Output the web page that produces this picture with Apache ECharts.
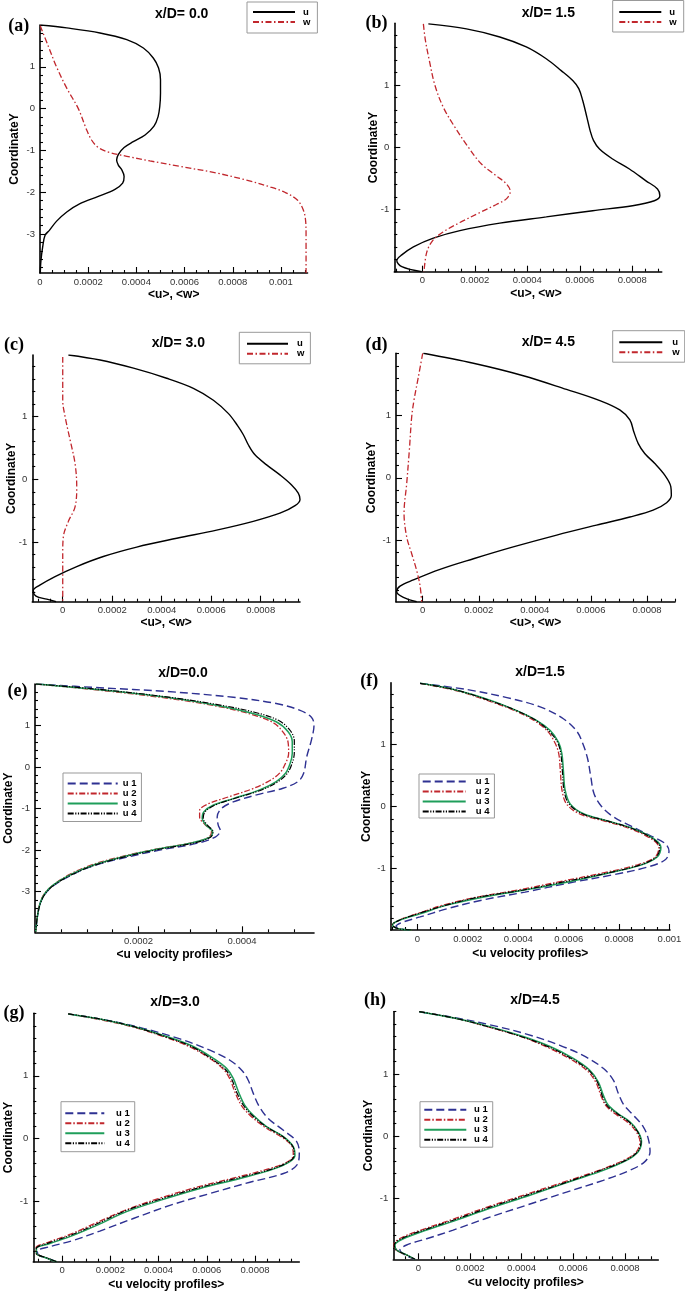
<!DOCTYPE html>
<html lang="en">
<head>
<meta charset="UTF-8">
<title>u, w velocity profiles</title>
<style>
  html, body { margin: 0; padding: 0; background: #fff; }
  #chart { width: 685px; height: 1292px; }
</style>
</head>
<body>
<div id="chart"></div>
<script src="https://cdn.jsdelivr.net/npm/echarts@6/dist/echarts.min.js"></script>
<script>
// ---- data: [u, CoordinateY] ----
var a_u = [[0.000003,2.0],[0.000111,1.93],[0.000249,1.81],[0.00036,1.65],[0.000429,1.45],[0.00047,1.21],[0.000492,0.97],[0.0005,0.69],[0.0005,0.37],[0.000497,0.05],[0.00049,-0.19],[0.000473,-0.42],[0.000436,-0.63],[0.000387,-0.79],[0.000349,-0.93],[0.000326,-1.09],[0.000318,-1.23],[0.000325,-1.35],[0.00034,-1.47],[0.000349,-1.62],[0.000343,-1.78],[0.000311,-1.93],[0.000242,-2.10],[0.000166,-2.27],[0.000111,-2.47],[0.000069,-2.69],[0.000039,-2.91],[0.000021,-3.03],[0.000011,-3.31],[0.000004,-3.63],[0.000001,-3.93]];
var a_w = [[0.000001,1.98],[0.0000346,1.49],[0.0000692,0.99],[0.000111,0.49],[0.000159,0],[0.000191,-0.47],[0.000214,-0.75],[0.000242,-0.93],[0.00029,-1.05],[0.00036,-1.14],[0.000456,-1.25],[0.000581,-1.38],[0.000733,-1.54],[0.000857,-1.71],[0.000954,-1.87],[0.001016,-2.0],[0.001069,-2.19],[0.001093,-2.43],[0.001102,-2.67],[0.001104,-2.99],[0.001104,-3.93]];

var b_u = [[0.0000228,1.98],[0.000168,1.90],[0.000295,1.77],[0.000396,1.61],[0.000472,1.42],[0.000529,1.23],[0.000573,1.07],[0.000596,0.94],[0.000611,0.75],[0.000627,0.48],[0.000639,0.27],[0.000652,0.11],[0.000675,-0.03],[0.000725,-0.19],[0.000789,-0.35],[0.000852,-0.54],[0.000896,-0.67],[0.000905,-0.78],[0.000884,-0.86],[0.000801,-0.94],[0.000649,-1.02],[0.000472,-1.12],[0.000295,-1.22],[0.000143,-1.34],[0.0000418,-1.46],[-0.0000342,-1.60],[-0.0000785,-1.73],[-0.0000975,-1.82],[-0.0000785,-1.92],[-0.0000025,-2.0]];
var b_w = [[0.0000038,1.98],[0.0000114,1.72],[0.0000266,1.39],[0.0000481,0.99],[0.0000798,0.64],[0.000124,0.32],[0.000175,0],[0.000225,-0.27],[0.000282,-0.46],[0.00032,-0.59],[0.000335,-0.71],[0.00032,-0.83],[0.000282,-0.92],[0.000219,-1.05],[0.000143,-1.21],[0.0000798,-1.36],[0.0000392,-1.50],[0.0000165,-1.69],[0.0000063,-2.0]];

var c_u = [[0.0000229,1.98],[0.000151,1.90],[0.000286,1.77],[0.00042,1.61],[0.000528,1.45],[0.000609,1.26],[0.000669,1.05],[0.000706,0.86],[0.00073,0.71],[0.00075,0.55],[0.000777,0.39],[0.000824,0.23],[0.000878,0.07],[0.000925,-0.09],[0.000952,-0.22],[0.000959,-0.32],[0.000939,-0.42],[0.000878,-0.54],[0.00077,-0.67],[0.000622,-0.81],[0.000461,-0.94],[0.000299,-1.08],[0.000164,-1.23],[0.0000566,-1.39],[-0.000031,-1.55],[-0.0000943,-1.69],[-0.000119,-1.77],[-0.000108,-1.86],[-0.0000647,-1.91],[-0.0000269,-1.95]];
var c_w = [[0,1.95],[0,1.26],[0.0000094,1.0],[0.0000296,0.63],[0.0000498,0.25],[0.0000566,-0.12],[0.0000498,-0.44],[0.0000229,-0.67],[0.0000027,-0.91],[0,-1.18],[0,-1.95]];

var d_u = [[0.0000024,2.0],[0.000181,1.84],[0.000359,1.64],[0.000513,1.42],[0.000632,1.24],[0.000703,1.09],[0.000739,0.93],[0.000753,0.74],[0.000769,0.55],[0.000792,0.39],[0.000828,0.23],[0.000864,0.04],[0.000885,-0.14],[0.000887,-0.28],[0.00087,-0.40],[0.000822,-0.52],[0.000739,-0.63],[0.00062,-0.76],[0.000478,-0.92],[0.000323,-1.11],[0.000181,-1.30],[0.0000618,-1.47],[-0.0000333,-1.64],[-0.0000808,-1.74],[-0.0000927,-1.83],[-0.0000689,-1.92],[-0.0000214,-1.99]];
var d_w = [[0,2.0],[-0.0000154,1.62],[-0.0000309,1.25],[-0.0000392,0.98],[-0.0000475,0.45],[-0.000057,-0.09],[-0.0000665,-0.57],[-0.000057,-0.95],[-0.0000392,-1.22],[-0.0000214,-1.49],[-0.0000095,-1.73],[-0.0000036,-1.99]];

var e_u1 = [[0.000002,2.0],[0.000125,1.91],[0.000254,1.82],[0.000383,1.68],[0.000466,1.53],[0.000511,1.37],[0.000534,1.20],[0.000539,1.01],[0.000534,0.65],[0.000525,0.25],[0.000519,-0.15],[0.000508,-0.35],[0.000479,-0.51],[0.000428,-0.67],[0.000383,-0.84],[0.00036,-1.00],[0.000352,-1.20],[0.000354,-1.40],[0.000358,-1.53],[0.000349,-1.68],[0.000312,-1.84],[0.000241,-2.00],[0.000174,-2.18],[0.000113,-2.38],[0.0000675,-2.62],[0.0000354,-2.86],[0.0000193,-3.06],[0.0000096,-3.30],[0.0000045,-3.62],[0.0000013,-3.97]];
var e_u2 = [[0.000002,2.0],[0.000125,1.85],[0.000254,1.66],[0.00035,1.47],[0.000418,1.27],[0.00046,1.07],[0.00048,0.83],[0.000489,0.59],[0.00049,0.33],[0.000484,0.09],[0.000473,-0.14],[0.000453,-0.33],[0.000421,-0.52],[0.000376,-0.71],[0.000334,-0.89],[0.000318,-1.05],[0.000318,-1.21],[0.000328,-1.38],[0.000341,-1.55],[0.000336,-1.69],[0.000304,-1.82],[0.000233,-1.98],[0.000169,-2.15],[0.000111,-2.35],[0.0000662,-2.59],[0.0000354,-2.84],[0.0000186,-3.04],[0.0000096,-3.28],[0.0000045,-3.60],[0.0000013,-3.97]];
var e_u3 = [[0.000002,2.0],[0.000125,1.86],[0.000254,1.68],[0.00035,1.49],[0.000421,1.29],[0.000466,1.09],[0.000489,0.85],[0.000497,0.61],[0.000497,0.33],[0.000493,0.09],[0.000484,-0.15],[0.000466,-0.35],[0.000434,-0.55],[0.000383,-0.76],[0.000344,-0.92],[0.000326,-1.08],[0.000323,-1.24],[0.000331,-1.40],[0.000343,-1.56],[0.000338,-1.69],[0.000305,-1.82],[0.000235,-1.98],[0.00017,-2.16],[0.000113,-2.36],[0.0000675,-2.60],[0.0000354,-2.84],[0.0000193,-3.04],[0.0000096,-3.29],[0.0000045,-3.61],[0.0000013,-3.97]];
var e_u4 = [[0.000002,2.0],[0.000125,1.87],[0.000254,1.69],[0.00035,1.51],[0.000424,1.32],[0.000471,1.12],[0.000493,0.88],[0.000501,0.63],[0.000501,0.35],[0.000497,0.10],[0.000488,-0.14],[0.000471,-0.34],[0.00044,-0.54],[0.00039,-0.74],[0.000349,-0.91],[0.000329,-1.07],[0.000325,-1.23],[0.000333,-1.40],[0.000344,-1.56],[0.000339,-1.69],[0.000307,-1.83],[0.000236,-1.99],[0.000171,-2.17],[0.000114,-2.37],[0.0000682,-2.61],[0.000036,-2.85],[0.0000199,-3.05],[0.0000103,-3.29],[0.0000045,-3.61],[0.0000013,-3.97]];

var f_u1 = [[0.0000106,1.98],[0.000196,1.88],[0.000355,1.75],[0.000487,1.60],[0.000579,1.41],[0.000632,1.21],[0.000656,1.01],[0.000675,0.77],[0.000688,0.47],[0.000701,0.20],[0.000732,-0.01],[0.000778,-0.17],[0.000844,-0.31],[0.000923,-0.47],[0.000983,-0.60],[0.000998,-0.72],[0.000983,-0.86],[0.00091,-0.98],[0.000778,-1.10],[0.000606,-1.23],[0.000427,-1.38],[0.000255,-1.51],[0.000116,-1.65],[0.0000106,-1.78],[-0.0000622,-1.87],[-0.0000847,-1.93],[-0.0000556,-1.98],[-0.0000225,-1.99]];
var f_u2 = [[0.0000106,1.98],[0.000156,1.86],[0.000288,1.69],[0.000392,1.53],[0.000467,1.37],[0.000516,1.21],[0.000546,1.02],[0.000561,0.84],[0.000567,0.57],[0.000574,0.25],[0.000593,0.03],[0.000648,-0.13],[0.000745,-0.24],[0.000851,-0.37],[0.00093,-0.53],[0.000958,-0.66],[0.000942,-0.82],[0.000873,-0.94],[0.000738,-1.07],[0.000579,-1.20],[0.000407,-1.34],[0.000238,-1.46],[0.00011,-1.58],[0.0000053,-1.72],[-0.0000714,-1.83],[-0.0001005,-1.91],[-0.0000754,-1.97],[-0.0000225,-1.99]];
var f_u3 = [[0.0000106,1.98],[0.000156,1.87],[0.000288,1.71],[0.000394,1.54],[0.000474,1.38],[0.000527,1.22],[0.00056,1.03],[0.000573,0.85],[0.000579,0.58],[0.000586,0.26],[0.000606,0.04],[0.000659,-0.12],[0.000751,-0.23],[0.000857,-0.36],[0.000937,-0.52],[0.000966,-0.66],[0.00095,-0.82],[0.000884,-0.95],[0.000751,-1.08],[0.000593,-1.22],[0.000421,-1.35],[0.000249,-1.47],[0.000116,-1.59],[0.0000106,-1.73],[-0.0000688,-1.83],[-0.0000992,-1.91],[-0.0000754,-1.97],[-0.0000225,-1.99]];
var f_u4 = [[0.0000106,1.98],[0.000156,1.87],[0.000288,1.70],[0.000394,1.54],[0.000471,1.38],[0.000522,1.21],[0.000556,1.03],[0.000569,0.84],[0.000575,0.57],[0.000582,0.25],[0.000601,0.04],[0.000655,-0.12],[0.000749,-0.23],[0.000854,-0.36],[0.000933,-0.52],[0.000962,-0.66],[0.000946,-0.82],[0.000878,-0.95],[0.000745,-1.08],[0.000586,-1.21],[0.000414,-1.35],[0.000243,-1.46],[0.000114,-1.59],[0.0000079,-1.72],[-0.0000701,-1.83],[-0.0001005,-1.91],[-0.0000754,-1.97],[-0.0000225,-1.99]];

var g_u1 = [[0.0000249,1.99],[0.000184,1.89],[0.000336,1.76],[0.000489,1.59],[0.000613,1.41],[0.000696,1.25],[0.000745,1.09],[0.000772,0.93],[0.000793,0.72],[0.000818,0.51],[0.000855,0.32],[0.000918,0.13],[0.000973,-0.05],[0.000984,-0.24],[0.000973,-0.43],[0.000918,-0.56],[0.000779,-0.70],[0.000613,-0.88],[0.000447,-1.07],[0.000295,-1.28],[0.000156,-1.48],[0.0000457,-1.63],[-0.0000512,-1.73],[-0.000104,-1.80],[-0.0000955,-1.87],[-0.0000581,-1.92],[-0.0000235,-1.97]];
var g_u2 = [[0.0000249,1.99],[0.000156,1.90],[0.000295,1.78],[0.000433,1.61],[0.000537,1.45],[0.000616,1.27],[0.000668,1.11],[0.000696,0.95],[0.000717,0.74],[0.000745,0.52],[0.000782,0.36],[0.000841,0.18],[0.000911,0.02],[0.000954,-0.13],[0.000959,-0.27],[0.000937,-0.37],[0.000862,-0.48],[0.000724,-0.62],[0.000558,-0.78],[0.000392,-0.97],[0.000253,-1.16],[0.000129,-1.37],[0.0000346,-1.53],[-0.0000581,-1.66],[-0.000109,-1.75],[-0.000109,-1.83],[-0.000065,-1.91],[-0.0000235,-1.97]];
var g_u3 = [[0.0000249,1.99],[0.000156,1.91],[0.000295,1.79],[0.000433,1.63],[0.000544,1.47],[0.000627,1.28],[0.000682,1.12],[0.00071,0.96],[0.000731,0.75],[0.000758,0.53],[0.000793,0.37],[0.000848,0.19],[0.000918,0.03],[0.000959,-0.13],[0.000966,-0.27],[0.000945,-0.37],[0.000876,-0.49],[0.000738,-0.64],[0.000572,-0.80],[0.000406,-0.99],[0.000267,-1.17],[0.000143,-1.39],[0.0000457,-1.55],[-0.0000512,-1.68],[-0.000107,-1.76],[-0.000107,-1.84],[-0.000065,-1.91],[-0.0000235,-1.97]];
var g_u4 = [[0.0000249,1.99],[0.000156,1.91],[0.000295,1.79],[0.000433,1.62],[0.000541,1.46],[0.000621,1.27],[0.000675,1.11],[0.000703,0.95],[0.000724,0.74],[0.000752,0.53],[0.000788,0.37],[0.000846,0.19],[0.000915,0.03],[0.000957,-0.13],[0.000963,-0.27],[0.000941,-0.37],[0.000869,-0.49],[0.000731,-0.63],[0.000565,-0.79],[0.000399,-0.98],[0.00026,-1.16],[0.000136,-1.38],[0.0000401,-1.54],[-0.0000554,-1.67],[-0.000108,-1.76],[-0.000108,-1.83],[-0.000065,-1.91],[-0.0000235,-1.97]];

var h_u1 = [[0.0000039,2.0],[0.000148,1.90],[0.000277,1.79],[0.000419,1.64],[0.000548,1.46],[0.000645,1.28],[0.000716,1.09],[0.000755,0.90],[0.000774,0.69],[0.000796,0.50],[0.000832,0.34],[0.000871,0.15],[0.00089,-0.04],[0.000897,-0.25],[0.000877,-0.41],[0.000819,-0.55],[0.000716,-0.71],[0.000574,-0.90],[0.000419,-1.11],[0.000264,-1.32],[0.000135,-1.51],[0.0000323,-1.65],[-0.0000452,-1.75],[-0.000071,-1.83],[-0.0000516,-1.91],[-0.0000129,-1.98]];
var h_u2 = [[0.0000039,2.0],[0.000148,1.89],[0.000277,1.75],[0.000404,1.59],[0.000504,1.42],[0.000592,1.23],[0.000654,1.05],[0.000688,0.86],[0.000707,0.65],[0.000726,0.49],[0.000765,0.35],[0.000811,0.22],[0.000845,0.06],[0.000858,-0.09],[0.000845,-0.25],[0.000799,-0.38],[0.000706,-0.54],[0.000577,-0.72],[0.000422,-0.93],[0.000267,-1.14],[0.000138,-1.33],[0.0000245,-1.49],[-0.0000632,-1.63],[-0.0000942,-1.74],[-0.0000864,-1.83],[-0.0000452,-1.91],[-0.0000129,-1.98]];
var h_u3 = [[0.0000039,2.0],[0.000148,1.89],[0.000277,1.76],[0.000406,1.60],[0.00051,1.44],[0.0006,1.25],[0.000664,1.06],[0.000697,0.87],[0.000716,0.66],[0.000735,0.50],[0.000774,0.36],[0.000819,0.23],[0.000851,0.07],[0.000864,-0.09],[0.000851,-0.25],[0.000806,-0.39],[0.000716,-0.55],[0.000587,-0.73],[0.000432,-0.95],[0.000277,-1.16],[0.000148,-1.35],[0.0000323,-1.51],[-0.000058,-1.65],[-0.0000903,-1.75],[-0.0000839,-1.83],[-0.0000452,-1.91],[-0.0000129,-1.98]];
var h_u4 = [[0.0000039,2.0],[0.000148,1.89],[0.000277,1.75],[0.000406,1.59],[0.000507,1.43],[0.000596,1.24],[0.000659,1.06],[0.000693,0.87],[0.000712,0.65],[0.000731,0.49],[0.00077,0.36],[0.000815,0.23],[0.000849,0.07],[0.000862,-0.09],[0.000849,-0.25],[0.000802,-0.39],[0.000711,-0.54],[0.000582,-0.73],[0.000427,-0.94],[0.000272,-1.15],[0.000143,-1.34],[0.0000284,-1.50],[-0.0000606,-1.64],[-0.0000929,-1.75],[-0.0000851,-1.83],[-0.0000452,-1.91],[-0.0000129,-1.98]];

// ---- tick values ----
var ticksX_a = [0, 0.0002, 0.0004, 0.0006, 0.0008, 0.001];
var ticksX_b = [0, 0.0002, 0.0004, 0.0006, 0.0008];
var ticksX_e = [0.0002, 0.0004];
var ticksX_f = [0, 0.0002, 0.0004, 0.0006, 0.0008, 0.001];
var ticksY_long = [-3, -2, -1, 0, 1];
var ticksY_short = [-1, 0, 1];

var titles = ['x/D= 0.0', 'x/D= 1.5', 'x/D= 3.0', 'x/D= 4.5', 'x/D=0.0', 'x/D=1.5', 'x/D=3.0', 'x/D=4.5'];
var panelLabels = ['(a)', '(b)', '(c)', '(d)', '(e)', '(f)', '(g)', '(h)'];

// ---- styles ----
var styles = {
    'u':   {color: '#000000', width: 1.4, type: 'solid'},
    'w':   {color: '#c1272d', width: 1.3, type: [6, 2.5, 1.5, 2.5]},
    'u 1': {color: '#2e3192', width: 1.4, type: [8, 4]},
    'u 2': {color: '#c1272d', width: 1.3, type: [6, 2, 1.5, 2]},
    'u 3': {color: '#1f9e5a', width: 1.5, type: 'solid'},
    'u 4': {color: '#000000', width: 1.2, type: [6, 1.5, 1.2, 1.5, 1.2, 1.5]}
};

var AX = 'Arial, "Liberation Sans", sans-serif';

// layout of each panel (grid px box, axis extents, text positions)
var panels = [
    {rect: [40, 25, 267.5, 248], x: [0, 0.00111], y: [-3.93, 2.0], xt: ticksX_a, yt: ticksY_long,
     xname: '<u>, <w>', xgap: 16, ygap: 19, tpos: [181.7, 14], lpos: [18.7, 26.7],
     leg: {left: 247, top: 2, pad: [5, 7, 6, 5], w: 42, h: 10, tp: 3},
     series: [['u', a_u], ['w', a_w]]},
    {rect: [394.3, 23.3, 267.4, 248.4], x: [-0.000107, 0.000912], y: [-2.0, 1.99], xt: ticksX_b, yt: ticksY_short,
     xname: '<u>, <w>', xgap: 15.5, xpad: [0, 0, 0, 16], ygap: 15, tpos: [548.3, 13.3], lpos: [376.5, 23.3],
     leg: {left: 612.7, top: 0.5, pad: [6.5, 7, 5, 5.6], w: 42, h: 10, tp: 3},
     series: [['u', b_u], ['w', b_w]]},
    {rect: [32.3, 355, 267.7, 246.7], x: [-0.000123, 0.000959], y: [-1.95, 1.98], xt: ticksX_b, yt: ticksY_short,
     xname: '<u>, <w>', xgap: 14.6, ygap: 14.6, tpos: [178.3, 343.3], lpos: [14, 345],
     leg: {left: 239.3, top: 332.3, pad: [6.5, 6, 5, 6.7], w: 41, h: 10, tp: 4},
     series: [['u', c_u], ['w', c_w]]},
    {rect: [396, 353.3, 279, 248.4], x: [-0.0000952, 0.0009], y: [-1.99, 2.0], xt: ticksX_b, yt: ticksY_short,
     xname: '<u>, <w>', xgap: 14.6, ygap: 18.3, tpos: [548.3, 341.7], lpos: [376.5, 345],
     leg: {left: 612.7, top: 330.7, pad: [6.5, 5, 5, 5.6], w: 43, h: 10, tp: 5},
     series: [['u', d_u], ['w', d_w]]},
    {rect: [35, 684, 279, 248.3], x: [0, 0.000539], y: [-3.98, 2.0], xt: ticksX_e, yt: ticksY_long,
     xname: '<u velocity profiles>', xgap: 16, ygap: 20.7, tpos: [183, 673.3], lpos: [17.5, 691.7],
     leg: {left: 63, top: 773, pad: [5.5, 5, 3, 3.7], w: 50, h: 8.7, tp: 0},
     series: [['u 1', e_u1], ['u 2', e_u2], ['u 3', e_u3], ['u 4', e_u4]]},
    {rect: [390.7, 682.7, 279.3, 247.3], x: [-0.000106, 0.001002], y: [-1.99, 1.99], xt: ticksX_f, yt: ticksY_short,
     xname: '<u velocity profiles>', xgap: 18, ygap: 18, tpos: [540, 671.7], lpos: [369.3, 681.7],
     leg: {left: 419, top: 774, pad: [2.5, 5, 1.5, 2.7], w: 43, h: 9.1, tp: 5},
     series: [['u 1', f_u1], ['u 2', f_u2], ['u 3', f_u3], ['u 4', f_u4]]},
    {rect: [33.3, 1013.3, 266, 248.4], x: [-0.00012, 0.000984], y: [-1.97, 2.0], xt: ticksX_b, yt: ticksY_short,
     xname: '<u velocity profiles>', xgap: 16.6, ygap: 18.3, tpos: [175, 1002.3], lpos: [14, 1013.3],
     leg: {left: 61, top: 1101.7, pad: [6.5, 5, 3.5, 3.3], w: 39, h: 8.6, tp: 6.7},
     series: [['u 1', g_u1], ['u 2', g_u2], ['u 3', g_u3], ['u 4', g_u4]]},
    {rect: [393.3, 1011.7, 265, 247.6], x: [-0.0000967, 0.000929], y: [-1.98, 2.0], xt: ticksX_b, yt: ticksY_short,
     xname: '<u velocity profiles>', xgap: 17, ygap: 19, tpos: [535, 1000], lpos: [375, 1000],
     leg: {left: 420, top: 1101.7, pad: [3, 5, 2.5, 3.3], w: 42, h: 9.3, tp: 2.7},
     series: [['u 1', h_u1], ['u 2', h_u2], ['u 3', h_u3], ['u 4', h_u4]]}
];

var fmt = function (v) { return String(+v.toFixed(6)); };

var minorTicks = function (ext, step, majors) {
    var out = [];
    for (var k = Math.ceil(ext[0] / step - 1e-9); k * step <= ext[1] + 1e-12; k++) {
        var v = +(k * step).toFixed(10);
        if (majors.indexOf(v) < 0) out.push(v);
    }
    return out;
};

var option = {
    backgroundColor: '#fff',
    animation: false,
    grid: [], xAxis: [], yAxis: [], series: [], title: [], legend: []
};

panels.forEach(function (p, i) {
    option.grid.push({
        left: p.rect[0], top: p.rect[1], width: p.rect[2], height: p.rect[3],
        containLabel: false, outerBoundsMode: 'none', show: false
    });

    var tickLine = {color: '#000', width: 1.1};

    // major x axis (line, labels, name)
    option.xAxis.push({
        type: 'value', gridIndex: i, position: 'bottom', min: p.x[0], max: p.x[1],
        axisLine: {show: true, onZero: false, lineStyle: {color: '#000', width: 1.6}},
        axisTick: {show: true, inside: true, length: 6, customValues: p.xt, lineStyle: tickLine},
        axisLabel: {show: true, customValues: p.xt, margin: 4, fontSize: 9.5, color: '#333',
                    fontFamily: AX, formatter: fmt},
        splitLine: {show: false},
        name: p.xname, nameLocation: 'middle', nameGap: p.xgap, nameMoveOverlap: false,
        nameTextStyle: {fontSize: 12, fontWeight: 'bold', color: '#000', fontFamily: AX, padding: p.xpad || 0}
    });
    // minor x ticks
    option.xAxis.push({
        type: 'value', gridIndex: i, position: 'bottom', offset: 0, min: p.x[0], max: p.x[1],
        axisLine: {show: false, onZero: false},
        axisTick: {show: true, inside: true, length: 3, customValues: minorTicks(p.x, 0.00005, p.xt), lineStyle: tickLine},
        axisLabel: {show: false}, splitLine: {show: false}
    });

    option.yAxis.push({
        type: 'value', gridIndex: i, position: 'left', min: p.y[0], max: p.y[1],
        axisLine: {show: true, onZero: false, lineStyle: {color: '#000', width: 1.6}},
        axisTick: {show: true, inside: true, length: 6, customValues: p.yt, lineStyle: tickLine},
        axisLabel: {show: true, customValues: p.yt, margin: 5, fontSize: 9.5, color: '#333',
                    fontFamily: AX, formatter: fmt},
        splitLine: {show: false},
        name: 'CoordinateY', nameLocation: 'middle', nameGap: p.ygap, nameMoveOverlap: false,
        nameTextStyle: {fontSize: 12, fontWeight: 'bold', color: '#000', fontFamily: AX}
    });
    option.yAxis.push({
        type: 'value', gridIndex: i, position: 'left', offset: 0, min: p.y[0], max: p.y[1],
        axisLine: {show: false, onZero: false},
        axisTick: {show: true, inside: true, length: 3, customValues: minorTicks(p.y, 0.2, p.yt), lineStyle: tickLine},
        axisLabel: {show: false}, splitLine: {show: false}
    });

    p.series.forEach(function (s) {
        var st = styles[s[0]];
        option.series.push({
            type: 'line', name: s[0], data: s[1],
            xAxisIndex: 2 * i, yAxisIndex: 2 * i,
            symbol: 'none', showSymbol: false, smooth: 0.35, silent: true,
            color: st.color,
            lineStyle: {color: st.color, width: st.width, type: st.type},
            emphasis: {disabled: true}
        });
    });

    option.title.push({
        text: titles[i], left: p.tpos[0], top: p.tpos[1], textAlign: 'center', textVerticalAlign: 'middle',
        padding: 0, textStyle: {fontSize: 14, fontWeight: 'bold', color: '#000', fontFamily: AX}
    });
    option.title.push({
        text: panelLabels[i], left: p.lpos[0], top: p.lpos[1], textAlign: 'center', textVerticalAlign: 'middle',
        padding: 0, textStyle: {fontSize: 18, fontWeight: 'bold', color: '#000', fontFamily: '"Liberation Serif", "DejaVu Serif", serif'}
    });

    var lg = p.leg;
    option.legend.push({
        data: p.series.map(function (s) { return s[0]; }),
        orient: 'vertical', left: lg.left, top: lg.top, padding: lg.pad,
        itemWidth: lg.w, itemHeight: lg.h, itemGap: 0, selectedMode: false,
        borderColor: '#999', borderWidth: 1, backgroundColor: '#fff',
        // line only, no marker in the key
        itemStyle: {opacity: 0, color: 'rgba(0,0,0,0)', borderColor: 'rgba(0,0,0,0)', borderWidth: 0},
        textStyle: {fontSize: 9.5, fontWeight: 'bold', color: '#000', fontFamily: AX,
                    lineHeight: lg.h, padding: [0, 0, 0, lg.tp]}
    });
});

var chart = echarts.init(document.getElementById('chart'), null, {renderer: 'canvas'});
chart.setOption(option);
</script>
</body>
</html>
